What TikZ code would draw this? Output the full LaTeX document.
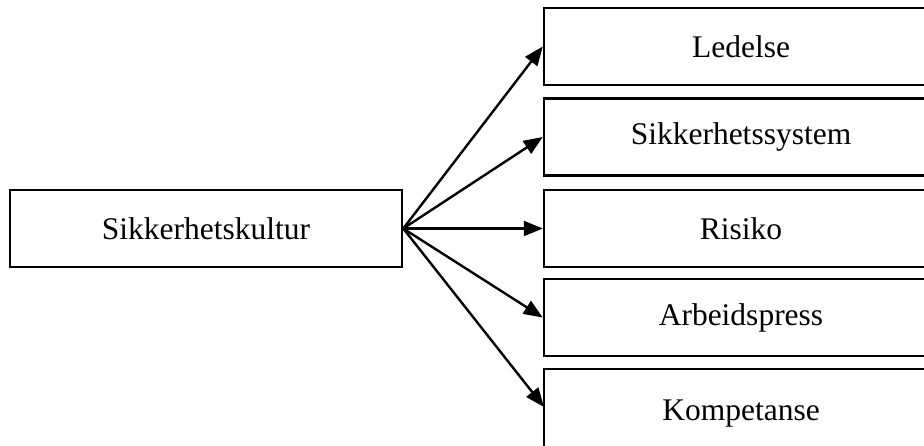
\documentclass[tikz,border=0pt]{standalone}
\usepackage{fontspec}
\setmainfont{Liberation Serif}
\usetikzlibrary{arrows.meta}
\begin{document}
\begin{tikzpicture}[x=1pt,y=-1pt,
  box/.style={draw,line width=2.5pt,minimum height=77pt,inner sep=0pt,
    font=\fontsize{31.5}{36}\selectfont},
  rbox/.style={box,minimum width=420pt},
  arr/.style={line width=2.4pt,-{Triangle[length=19pt,width=15pt]}}]
\useasboundingbox (0,0) rectangle (924,445);
\node[box,minimum width=392pt] (src) at (206,228.5) {Sikkerhetskultur};
\node[rbox] (a) at (754,46.5) {\hspace*{-26pt}Ledelse};
\node[rbox] (b) at (754,137) {\hspace*{-26pt}Sikkerhetssystem};
\node[rbox] (c) at (754,228.5) {\hspace*{-26pt}Risiko};
\node[rbox] (d) at (754,317.5) {\hspace*{-26pt}Arbeidspress};
\node[rbox,minimum height=90pt] (e) at (754,414) {\hspace*{-26pt}Kompetanse};
\coordinate (et) at (544,407);
\foreach \t in {a,b,c,d}
  \draw[arr] (src.east) -- (\t.west);
\draw[arr] (src.east) -- (et);
\end{tikzpicture}
\end{document}
